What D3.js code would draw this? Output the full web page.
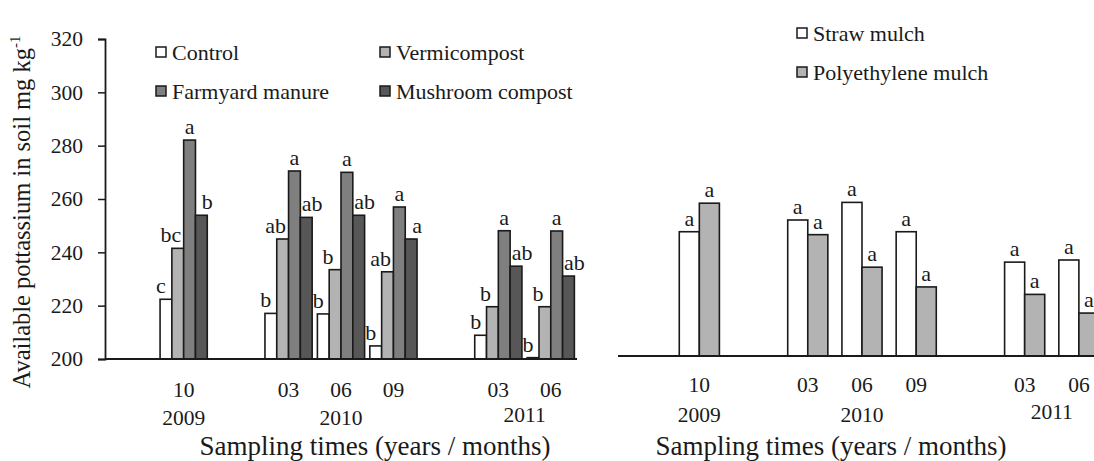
<!DOCTYPE html>
<html>
<head>
<meta charset="utf-8">
<script src="https://cdn.jsdelivr.net/npm/d3@7.9.0/dist/d3.min.js"></script>
<style>
  body { margin: 0; background: #fff; }
  svg { display: block; font-family: "Liberation Serif", "Times New Roman", serif; }
</style>
</head>
<body>
<svg id="chart" width="1094" height="461"></svg>
<script>
// sampling slots (blank slots are the gaps between years)
const months = ["", "10", "", "03", "06", "09", "", "03", "06"];
const years  = ["", "2009", "", "2010", "2010", "2010", "", "2011", "2011"];
const yTicks = [200, 220, 240, 260, 280, 300, 320];

// left panel: organic amendments
const amendments   = ["Control", "Vermicompost", "Farmyard manure", "Mushroom compost"];
const control      = [null, 222.4, null, 217.1, 216.9, 204.9, null, 208.9, 200.5];
const vermicompost = [null, 241.5, null, 245.0, 233.5, 232.7, null, 219.6, 219.6];
const farmyard     = [null, 282.1, null, 270.5, 270.0, 257.0, null, 248.1, 248.0];
const mushroom     = [null, 253.9, null, 253.1, 253.9, 245.0, null, 234.8, 231.1];
const controlSig   = ["", "c",  "", "b",  "b",  "b",  "", "b",  "b"];
const vermiSig     = ["", "bc", "", "ab", "b",  "ab", "", "b",  "b"];
const farmyardSig  = ["", "a",  "", "a",  "a",  "a",  "", "a",  "a"];
const mushroomSig  = ["", "b",  "", "ab", "ab", "a",  "", "ab", "ab"];

// right panel: mulches
const mulches  = ["Straw mulch", "Polyethylene mulch"];
const straw    = [null, 246.6, null, 251.0, 257.6, 246.6, null, 235.2, 236.0];
const poly     = [null, 257.3, null, 245.5, 233.3, 225.9, null, 223.1, 216.1];
const strawSig = ["", "a", "", "a", "a", "a", "", "a", "a"];
const polySig  = ["", "a", "", "a", "a", "a", "", "a", "a"];

const svg = d3.select('#chart');
const ink = '#1a1a1a';

function drawPanel(cfg) {
  const g = svg.append('g');
  const slots = d3.range(months.length);

  const x = d3.scaleBand()
    .domain(slots)
    .range([cfg.x0, cfg.x1])
    .paddingInner(cfg.pad)
    .paddingOuter(cfg.pad / 2);

  const xs = d3.scaleBand()
    .domain(d3.range(cfg.series.length))
    .range([0, x.bandwidth()]);

  const y = d3.scaleLinear().domain([200, 320]).range([cfg.yBase, cfg.yTop]);

  cfg.series.forEach((s, si) => {
    slots.forEach((i) => {
      const v = s.values[i];
      if (v === null) return;
      const bx = x(i) + xs(si);
      g.append('rect')
        .attr('x', bx)
        .attr('y', y(v))
        .attr('width', xs.bandwidth())
        .attr('height', y(200) - y(v))
        .attr('fill', s.color)
        .attr('stroke', ink)
        .attr('stroke-width', 1.6);
      // significance letters, nudged sideways so they clear taller neighbours
      g.append('text')
        .attr('x', bx + xs.bandwidth() / 2 + (s.dx || 0))
        .attr('y', y(v) - 6)
        .attr('text-anchor', 'middle')
        .attr('font-size', 22)
        .attr('fill', ink)
        .text(s.sig[i]);
    });
  });

  // baseline
  g.append('line')
    .attr('x1', cfg.x0).attr('x2', cfg.x1)
    .attr('y1', y(200)).attr('y2', y(200))
    .attr('stroke', ink).attr('stroke-width', 1.8);

  if (cfg.showY) {
    const yAxis = g.append('g')
      .attr('transform', `translate(${cfg.x0},0)`)
      .call(d3.axisLeft(y).tickValues(yTicks).tickSize(7).tickPadding(15));
    yAxis.select('.domain').attr('stroke', ink).attr('stroke-width', 1.8);
    yAxis.selectAll('.tick line').attr('stroke', ink).attr('stroke-width', 1.5);
    yAxis.selectAll('.tick text')
      .attr('font-size', 21.5).attr('fill', ink)
      .attr('font-family', '"Liberation Serif", serif');
  }

  // month labels
  slots.forEach((i) => {
    if (!months[i]) return;
    g.append('text')
      .attr('x', x(i) + x.bandwidth() / 2)
      .attr('y', y(200) + cfg.monthDy)
      .attr('text-anchor', 'middle')
      .attr('font-size', 21.5)
      .attr('fill', ink)
      .text(months[i]);
  });

  // year labels centred on their run of slots
  const runs = [];
  slots.forEach((i) => {
    if (!years[i]) return;
    const last = runs[runs.length - 1];
    if (last && last.label === years[i] && last.to === i - 1) last.to = i;
    else runs.push({ label: years[i], from: i, to: i });
  });
  runs.forEach((r, ri) => {
    const cx = (x(r.from) + x(r.to) + x.bandwidth()) / 2;
    g.append('text')
      .attr('x', cx)
      .attr('y', y(200) + cfg.yearDy - (ri === runs.length - 1 ? 3 : 0))
      .attr('text-anchor', 'middle')
      .attr('font-size', 21.5)
      .attr('fill', ink)
      .text(r.label);
  });

  g.append('text')
    .attr('x', cfg.titleX)
    .attr('y', 455)
    .attr('text-anchor', 'middle')
    .attr('font-size', 27)
    .attr('fill', ink)
    .text('Sampling times (years / months)');

  // legend
  cfg.series.forEach((s, si) => {
    const col = si % cfg.legendCols;
    const row = Math.floor(si / cfg.legendCols);
    const lx = cfg.legendX + col * cfg.legendColW;
    const ly = cfg.legendY + row * cfg.legendRowH;
    g.append('rect')
      .attr('x', lx).attr('y', ly - 5)
      .attr('width', 10).attr('height', 10)
      .attr('fill', s.color)
      .attr('stroke', ink).attr('stroke-width', 1.5);
    g.append('text')
      .attr('x', lx + 16).attr('y', ly)
      .attr('dy', '0.35em')
      .attr('font-size', 22)
      .attr('fill', ink)
      .text(s.name);
  });
}

drawPanel({
  x0: 105, x1: 577, yBase: 359, yTop: 39, pad: 0.1, showY: true,
  monthDy: 38, yearDy: 66, titleX: 375,
  legendX: 156, legendY: 52, legendCols: 2, legendColW: 224, legendRowH: 39,
  series: [
    { name: amendments[0], values: control,      sig: controlSig,  color: '#ffffff', dx: -5 },
    { name: amendments[1], values: vermicompost, sig: vermiSig,    color: '#b3b3b3', dx: -7 },
    { name: amendments[2], values: farmyard,     sig: farmyardSig, color: '#7f7f7f', dx: 0 },
    { name: amendments[3], values: mushroom,     sig: mushroomSig, color: '#575757', dx: 6 }
  ]
});

drawPanel({
  x0: 618, x1: 1106, yBase: 356, yTop: 36, pad: 0.26, showY: false,
  monthDy: 36, yearDy: 66, titleX: 831,
  legendX: 797, legendY: 33, legendCols: 1, legendColW: 0, legendRowH: 39,
  series: [
    { name: mulches[0], values: straw, sig: strawSig, color: '#ffffff' },
    { name: mulches[1], values: poly,  sig: polySig,  color: '#b3b3b3' }
  ]
});

// y-axis title
svg.append('text')
  .attr('transform', 'translate(30,212) rotate(-90)')
  .attr('text-anchor', 'middle')
  .attr('font-size', 24.5)
  .attr('fill', ink)
  .html('Available pottassium in soil mg kg<tspan dy="-10" font-size="15">-1</tspan>');
</script>
</body>
</html>
